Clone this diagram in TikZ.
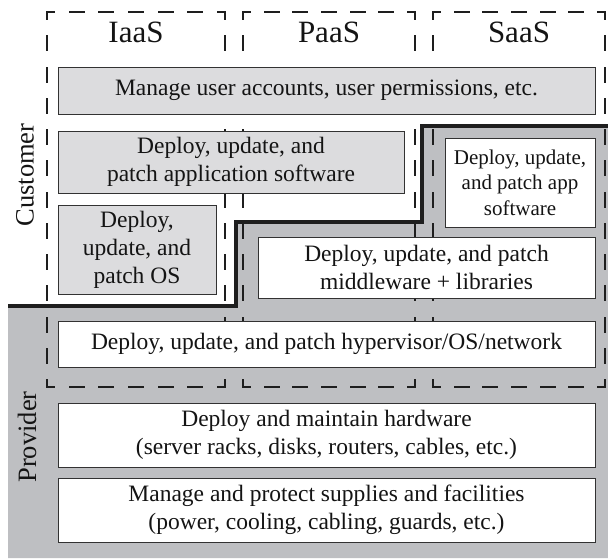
\documentclass[tikz,border=0pt]{standalone}
\usepackage{fontspec}
\setmainfont{Liberation Serif}
\definecolor{custgrey}{RGB}{220,220,222}
\definecolor{provgrey}{RGB}{190,191,194}
\definecolor{boxline}{RGB}{50,50,50}
\definecolor{dashcol}{RGB}{30,30,30}
\definecolor{txt}{RGB}{20,20,20}
\begin{document}
\begin{tikzpicture}[x=1pt,y=-1pt,
  box/.style={draw=boxline, line width=0.9pt, inner sep=0pt, align=center,
    font=\fontsize{23.5}{28}\selectfont, text=txt},
  cbox/.style={box, fill=custgrey},
  pbox/.style={box, fill=white},
  smalltext/.style={font=\fontsize{21}{25.5}\selectfont},
  collabel/.style={font=\fontsize{31}{33}\selectfont, text=txt, anchor=base},
  sidelabel/.style={font=\fontsize{26.5}{30}\selectfont, text=txt, rotate=90},
  dl/.style={draw=dashcol, line width=2pt, line cap=rect},
  hA/.style={dash pattern=on 14pt off 15.67pt, dash phase=7pt},
  hB/.style={dash pattern=on 14pt off 14.67pt, dash phase=7pt},
  vd/.style={dash pattern=on 14pt off 17.25pt, dash phase=7pt},
  heavy/.style={draw=dashcol, line width=4.8pt, line join=miter}]
\useasboundingbox (0,0) rectangle (608,558);
\fill[white] (0,0) rectangle (608,558);
% provider region
\fill[provgrey] (8,306) -- (236,306) -- (236,222) -- (422,222) -- (422,126)
  -- (608,126) -- (608,558) -- (8,558) -- cycle;
% dashed columns
\draw[dl,hA] (47,12) -- (225,12);
\draw[dl,hA] (47,387) -- (225,387);
\draw[dl,vd] (47,12) -- (47,387);
\draw[dl,vd] (225,12) -- (225,387);
\draw[dl,hB] (243,12) -- (415,12);
\draw[dl,hB] (243,387) -- (415,387);
\draw[dl,vd] (243,12) -- (243,387);
\draw[dl,vd] (415,12) -- (415,387);
\draw[dl,hB] (433,12) -- (605,12);
\draw[dl,hB] (433,387) -- (605,387);
\draw[dl,vd] (433,12) -- (433,387);
\draw[dl,vd] (605,12) -- (605,387);
% column labels
\node[collabel] (iaas) at (136,42) {IaaS};
\node[collabel] (paas) at (329,42) {PaaS};
\node[collabel] (saas) at (519,42) {SaaS};
% side labels
\node[sidelabel] (cust) at (25,175) {Customer};
\node[sidelabel] (prov) at (27,437) {Provider};
% boxes
\node[cbox, minimum width=537pt, minimum height=47pt] (manage) at (326.5,90.5)
  {Manage user accounts, user permissions, etc.};
\node[cbox, minimum width=346pt, minimum height=62pt] (appsw) at (231,162)
  {Deploy, update, and\\patch application software};
\node[cbox, minimum width=158pt, minimum height=89pt] (os) at (137,249.5)
  {Deploy,\\update, and\\patch OS};
\node[pbox, smalltext, minimum width=150pt, minimum height=89pt] (saasapp) at (520,182.5)
  {Deploy, update,\\and patch app\\software};
\node[pbox, minimum width=337pt, minimum height=61pt] (mw) at (426.5,267.5)
  {Deploy, update, and patch\\middleware + libraries};
\node[pbox, minimum width=537pt, minimum height=46pt] (hyp) at (326.5,344)
  {Deploy, update, and patch hypervisor/OS/network};
\node[pbox, minimum width=537pt, minimum height=64pt] (hw) at (326.5,435)
  {Deploy and maintain hardware\\(server racks, disks, routers, cables, etc.)};
\node[pbox, minimum width=537pt, minimum height=64pt] (fac) at (326.5,510)
  {Manage and protect supplies and facilities\\(power, cooling, cabling, guards, etc.)};
% customer/provider boundary
\draw[heavy] (8,306) -- (236,306) -- (236,222) -- (422,222) -- (422,126) -- (608,126);
\end{tikzpicture}
\end{document}
